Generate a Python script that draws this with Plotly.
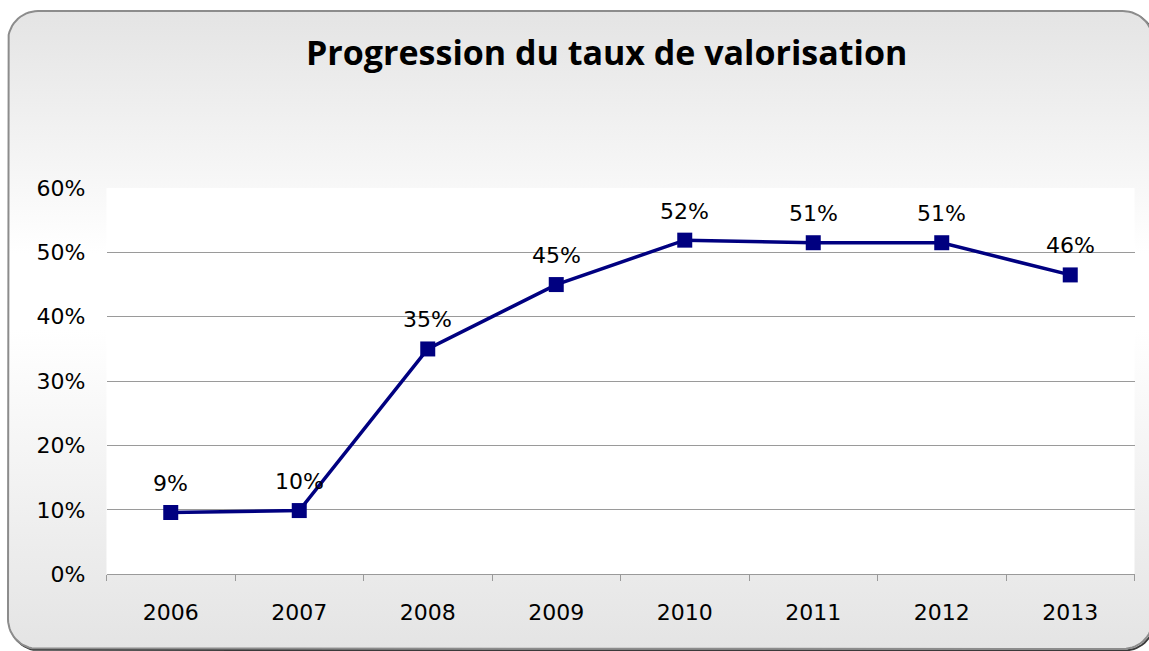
import numpy as np
import plotly.graph_objects as go

# ---- data ----
years = ["2006", "2007", "2008", "2009", "2010", "2011", "2012", "2013"]
rates = [0.096, 0.099, 0.350, 0.450, 0.519, 0.515, 0.515, 0.465]
labels = ["9%", "10%", "35%", "45%", "52%", "51%", "51%", "46%"]
title_text = "Progression du taux de valorisation"

W, H = 1149, 651
NAVY = "#000080"
GRID = "#9a9a9a"
TICKFONT = dict(family="DejaVu Sans", size=22, color="#000000")

# plot area in pixels
PX0, PX1 = 106.5, 1134.5
PY0, PY1 = 188.0, 574.3


def rounded_rect(x0, y0, x1, y1, r, n=16):
    xs, ys = [], []
    corners = [
        (x1 - r, y0 + r, -90, 0),
        (x1 - r, y1 - r, 0, 90),
        (x0 + r, y1 - r, 90, 180),
        (x0 + r, y0 + r, 180, 270),
    ]
    for cx, cy, a0, a1 in corners:
        t = np.radians(np.linspace(a0, a1, n))
        xs.extend(cx + r * np.cos(t))
        ys.extend(cy + r * np.sin(t))
    xs.append(xs[0])
    ys.append(ys[0])
    return xs, ys


fig = go.Figure()

# background frame (pixel-space axes x / y)
sx, sy = rounded_rect(9.5, 12.5, 1154.5, 650.5, 30)
fig.add_trace(go.Scatter(x=sx, y=sy, mode="lines", line=dict(color="#3a3a3a", width=2),
                         hoverinfo="skip", showlegend=False, xaxis="x", yaxis="y"))
bx, by = rounded_rect(8, 11, 1153, 649, 30)
fig.add_trace(go.Scatter(
    x=bx, y=by, mode="lines", fill="toself",
    fillgradient=dict(type="vertical",
                      colorscale=[[0, "#e4e4e4"], [0.5, "#ffffff"], [0.62, "#ffffff"], [1, "#e4e4e4"]]),
    line=dict(color="#8c8c8c", width=2),
    hoverinfo="skip", showlegend=False, xaxis="x", yaxis="y"))
# white plot area
fig.add_trace(go.Scatter(
    x=[PX0, PX1, PX1, PX0, PX0], y=[PY0, PY0, PY1, PY1, PY0], mode="lines",
    fill="toself", fillcolor="#ffffff", line=dict(width=0, color="rgba(0,0,0,0)"),
    hoverinfo="skip", showlegend=False, xaxis="x", yaxis="y"))

# data series
fig.add_trace(go.Scatter(
    x=years, y=rates, mode="lines+markers",
    line=dict(color=NAVY, width=3.5),
    marker=dict(symbol="square", size=15, color=NAVY),
    cliponaxis=False, showlegend=False, xaxis="x2", yaxis="y2"))

for i, (v, lab) in enumerate(zip(rates, labels)):
    fig.add_annotation(x=i, y=v, xref="x2", yref="y2", text=lab, showarrow=False,
                       yshift=29, font=TICKFONT)

fig.add_annotation(x=606.5 / W, y=1 - 52 / H, xref="paper", yref="paper",
                   xanchor="center", yanchor="middle", text="<b>" + title_text + "</b>",
                   showarrow=False, font=dict(family="Open Sans", size=34, color="#000000"))

fig.update_layout(
    width=W, height=H,
    margin=dict(l=0, r=0, t=0, b=0, autoexpand=False),
    paper_bgcolor="#ffffff",
    plot_bgcolor="rgba(0,0,0,0)",
    xaxis=dict(domain=[0, 1], range=[0, W], visible=False, fixedrange=True),
    yaxis=dict(domain=[0, 1], range=[H, 0], visible=False, fixedrange=True),
    xaxis2=dict(domain=[PX0 / W, PX1 / W], anchor="y2", type="category",
                categoryorder="array", categoryarray=years, range=[-0.5, len(years) - 0.5],
                showgrid=False, showline=True, linecolor=GRID, linewidth=1,
                ticks="outside", tickson="boundaries", ticklen=6, tickcolor=GRID,
                tickfont=TICKFONT, ticklabelstandoff=18, zeroline=False, tickangle=0),
    yaxis2=dict(domain=[1 - PY1 / H, 1 - PY0 / H], anchor="x2", range=[0, 0.6], dtick=0.1,
                tickformat=".0%", showgrid=True, gridcolor=GRID, gridwidth=1,
                showline=False, zeroline=False, ticks="", tickfont=TICKFONT,
                ticklabelstandoff=20),
)

fig.write_html("out.html", config={"displayModeBar": False},
               post_script="document.body.style.margin='0';document.body.style.overflow='hidden';")
